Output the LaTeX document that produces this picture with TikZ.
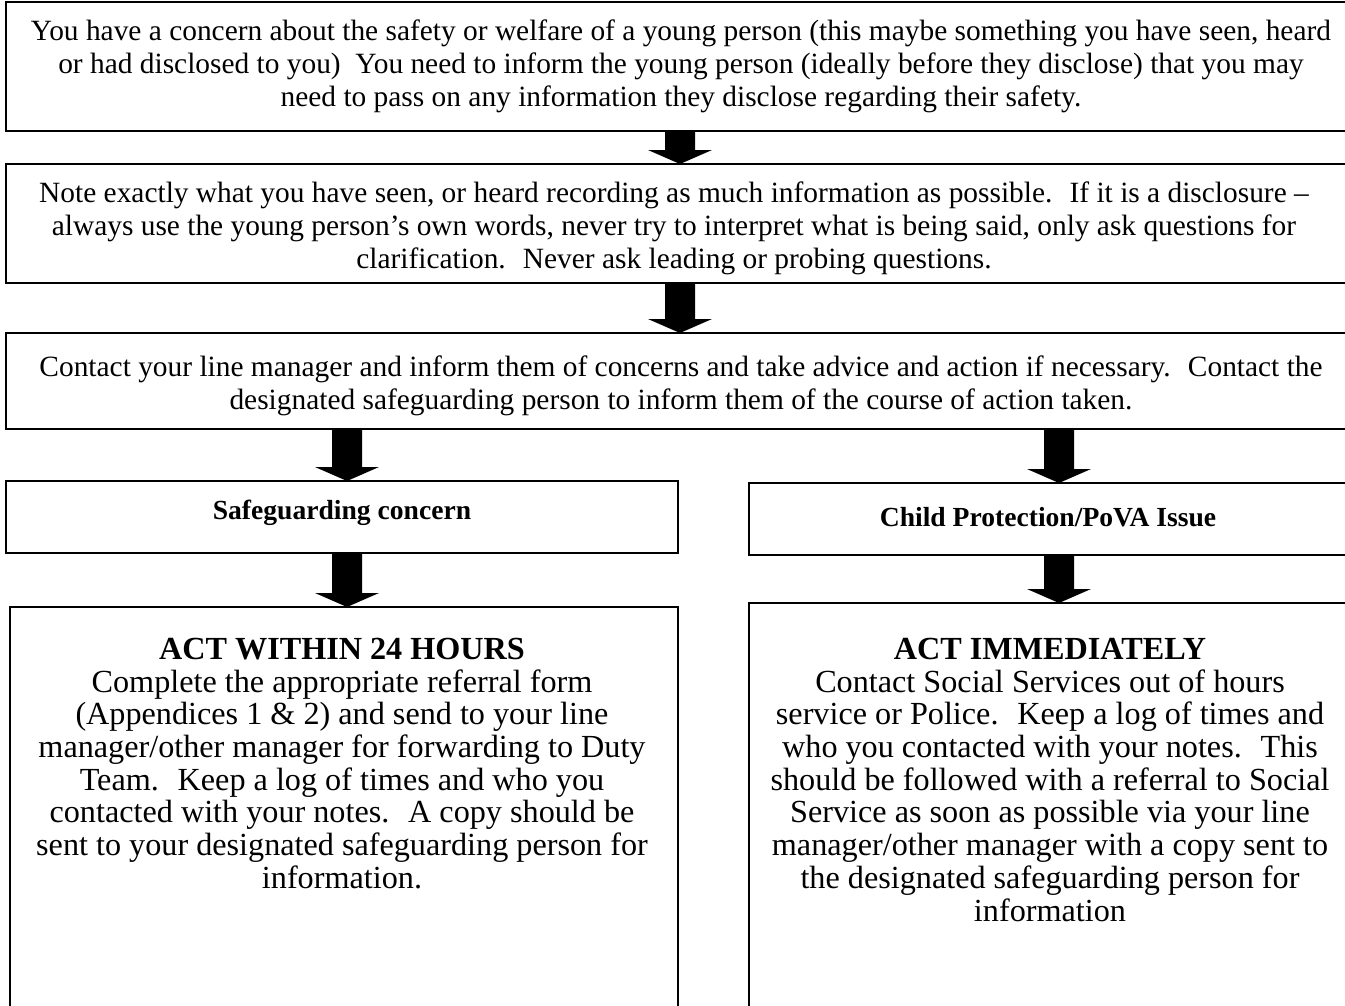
\documentclass[tikz,border=0pt]{standalone}
\usepackage{fontspec}
\setmainfont{Liberation Serif}
\usetikzlibrary{calc}
\newcommand\tsA{\rule{0pt}{0.9em}}
\newcommand\blockarr[3]{%
  \fill[blockfill] ($(#2.south -| #1)+(-15,0)$) -- ($(#3.north -| #1)+(-15,-14)$)
    -- ($(#3.north -| #1)+(-32,-14)$) -- (#3.north -| #1)
    -- ($(#3.north -| #1)+(32,-14)$) -- ($(#3.north -| #1)+(15,-14)$)
    -- ($(#2.south -| #1)+(15,0)$) -- cycle;}
\tikzset{
  frame/.style={draw, line width=2.6pt, inner sep=0pt, outer sep=0pt},
  toptext/.style={anchor=north, inner sep=0pt, align=center, font=\fontsize{29.4}{33}\selectfont},
  headtext/.style={anchor=north, inner sep=0pt, align=center, font=\fontsize{27.6}{33}\selectfont\bfseries},
  bigtext/.style={anchor=north, inner sep=0pt, align=center, font=\fontsize{32.2}{32.7}\selectfont},
  blockfill/.style={fill=black},
}
\begin{document}
\begin{tikzpicture}[x=1pt, y=-1pt]
\useasboundingbox[fill=white] (0,0) rectangle (1345,1005);
% boxes
\node[frame, minimum width=1350, minimum height=129] (b1) at (681,66.5) {};
\node[frame, minimum width=1350, minimum height=119] (b2) at (681,223.5) {};
\node[frame, minimum width=1350, minimum height=96] (b3) at (681,381) {};
\node[frame, minimum width=672, minimum height=72] (b4) at (342,517) {};
\node[frame, minimum width=607, minimum height=72] (b6) at (1052.5,519) {};
\node[frame, minimum width=668, minimum height=413] (b5) at (344,813.5) {};
\node[frame, minimum width=607, minimum height=417] (b7) at (1052.5,811.5) {};
% texts
\node[toptext] (t1) at (681,13.8) {\tsA You have a concern about the safety or welfare of a young person (this maybe something you have seen, heard\\
or had disclosed to you)~ You need to inform the young person (ideally before they disclose) that you may\\
need to pass on any information they disclose regarding their safety.};
\node[toptext] (t2) at (674,175.8) {\tsA Note exactly what you have seen, or heard recording as much information as possible.~ If it is a disclosure –\\
always use the young person’s own words, never try to interpret what is being said, only ask questions for\\
clarification.~ Never ask leading or probing questions.};
\node[toptext] (t3) at (681,349.8) {\tsA Contact your line manager and inform them of concerns and take advice and action if necessary.~ Contact the\\
designated safeguarding person to inform them of the course of action taken.};
\node[headtext] (t4) at (342,494.9) {\tsA Safeguarding concern};
\node[headtext] (t6) at (1048,501.9) {\tsA Child Protection/PoVA Issue};
\node[bigtext] (t5) at (342,630.3) {\tsA\textbf{ACT WITHIN 24 HOURS}\\
Complete the appropriate referral form\\
(Appendices 1 \& 2) and send to your line\\
manager/other manager for forwarding to Duty\\
Team.~ Keep a log of times and who you\\
contacted with your notes.~ A copy should be\\
sent to your designated safeguarding person for\\
information.};
\node[bigtext] (t7) at (1050,630.3) {\tsA\textbf{ACT IMMEDIATELY}\\
Contact Social Services out of hours\\
service or Police.~ Keep a log of times and\\
who you contacted with your notes.~ This\\
should be followed with a referral to Social\\
Service as soon as possible via your line\\
manager/other manager with a copy sent to\\
the designated safeguarding person for\\
information};
% arrows
\coordinate (cm) at (680,0);
\coordinate (cl) at (347,0);
\coordinate (cr) at (1059,0);
\blockarr{cm}{b1}{b2}
\blockarr{cm}{b2}{b3}
\blockarr{cl}{b3}{b4}
\blockarr{cr}{b3}{b6}
\blockarr{cl}{b4}{b5}
\blockarr{cr}{b6}{b7}
\end{tikzpicture}
\end{document}
